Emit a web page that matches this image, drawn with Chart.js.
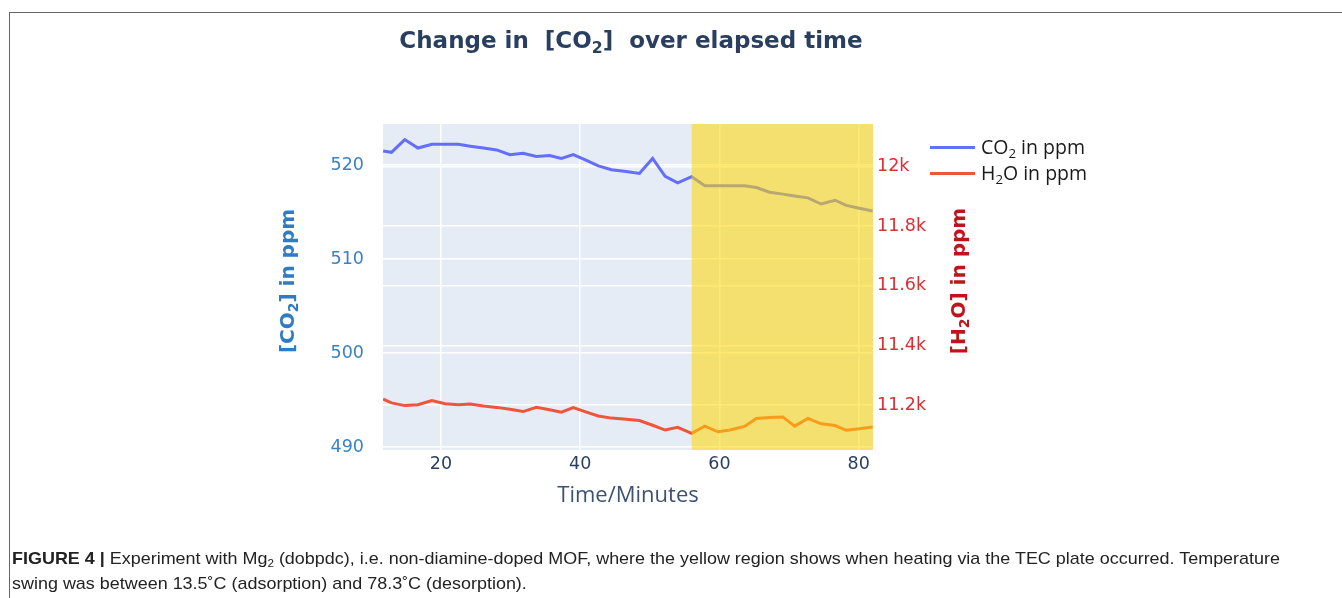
<!DOCTYPE html>
<html>
<head>
<meta charset="utf-8">
<script src="https://cdn.jsdelivr.net/npm/chart.js@4.4.0/dist/chart.umd.min.js"></script>
<style>
    body { margin: 0; width: 1342px; height: 598px; background: #fff; overflow: hidden; position: relative; }
    #frame { position: absolute; left: 9px; top: 12px; right: -5px; bottom: -5px; border-top: 1.5px solid #666; border-left: 1.5px solid #666; }
    #wrap { position: absolute; left: 0; top: 0; width: 1342px; height: 598px; }
    #title { position: absolute; left: 0; top: 24px; width: 1262px; text-align: center; white-space: pre;
             font: bold 23px "DejaVu Sans"; line-height: 32px; color: #2a3f5f; }
    #title sub, #legend sub { font-size: 0.68em; vertical-align: -0.3em; line-height: 0; }
    #legend { position: absolute; left: 930px; top: 134px; font: 19.5px "Open Sans"; color: #1a1a1a; }
    .item { position: relative; height: 26px; line-height: 26px; padding-left: 51px; white-space: nowrap; }
    .item span.swatch { position: absolute; left: 0; top: 12px; width: 45px; height: 3px; }
    #caption { position: absolute; left: 12px; top: 546px; font: 17px "Liberation Sans"; line-height: 25px;
               color: #222; white-space: nowrap; transform-origin: 0 0; }
    #caption sub { font-size: 0.65em; vertical-align: -0.25em; line-height: 0; }
</style>
</head>
<body>
<div id="frame"></div>
<div id="wrap"><canvas id="co2Chart"></canvas></div>
<div id="title">Change in  [CO<sub>2</sub>]  over elapsed time</div>
<div id="legend">
    <div class="item"><span class="swatch" style="background:#636efa"></span>CO<sub>2</sub> in ppm</div>
    <div class="item"><span class="swatch" style="background:#ef553b"></span>H<sub>2</sub>O in ppm</div>
</div>
<div id="caption"><span id="line1"><b>FIGURE 4 |</b> Experiment with Mg<sub>2</sub> (dobpdc), i.e. non-diamine-doped MOF, where the yellow region shows when heating via the TEC plate occurred. Temperature</span><br>swing was between 13.5˚C (adsorption) and 78.3˚C (desorption).</div>
<script>
// Data (minutes, ppm)
const times = [11.7, 12.9, 14.8, 16.7, 18.7, 20.6, 22.5, 24.2, 26.1, 28.0, 29.9, 31.8, 33.7, 35.6, 37.3, 39.0, 40.9, 42.6, 44.5, 46.6,
               48.5, 50.4, 52.2, 54.0, 56.0, 57.9, 59.8, 61.5, 63.6, 65.3, 67.2, 69.1, 70.8, 72.7, 74.6, 76.6, 78.2, 80.1, 82.0];
const co2Values = [521.5, 521.35, 522.7, 521.8, 522.2, 522.2, 522.2, 522.0, 521.8, 521.6, 521.1, 521.25, 520.9, 521.0, 520.7, 521.1,
                   520.5, 519.9, 519.5, 519.3, 519.1, 520.7, 518.8, 518.1, 518.75, 517.8, 517.8, 517.8, 517.8, 517.6, 517.1, 516.9,
                   516.7, 516.5, 515.85, 516.25, 515.7, 515.4, 515.1];
const h2oValues = [11220, 11207, 11198, 11201, 11215, 11204, 11201, 11203, 11197, 11192, 11186, 11178, 11192, 11184, 11176, 11191,
                   11176, 11163, 11156, 11152, 11148, 11132, 11116, 11125, 11105, 11129, 11110, 11116, 11128, 11155, 11158, 11160,
                   11129, 11155, 11137, 11131, 11115, 11120, 11126];
const xTicks = [20, 40, 60, 80];
const co2Ticks = [490, 500, 510, 520];
const h2oTicks = [11200, 11400, 11600, 11800, 12000];
const heatingStart = 56;

// Achtergrond van het plotvlak
const plotBackground = {
    id: 'plotBackground',
    beforeDraw(chart) {
        const { ctx, chartArea } = chart;
        ctx.save();
        ctx.fillStyle = '#e5ecf6';
        ctx.fillRect(chartArea.left, chartArea.top, chartArea.right - chartArea.left, chartArea.bottom - chartArea.top);
        ctx.restore();
    }
};

// Gele band: verwarmen via de TEC plaat
const heatingBand = {
    id: 'heatingBand',
    afterDatasetsDraw(chart) {
        const { ctx, chartArea, scales } = chart;
        let x0 = scales.x.getPixelForValue(heatingStart);
        ctx.save();
        ctx.fillStyle = 'rgba(255, 215, 0, 0.55)';
        ctx.fillRect(x0, chartArea.top, chartArea.right - x0, chartArea.bottom - chartArea.top);
        ctx.restore();
    }
};

// Astitels met echte subscript, beide van onder naar boven gelezen
function drawAxisTitle(ctx, parts, cx, cy, color) {
    const mainFont = 'bold 20px "DejaVu Sans"';
    const subFont = 'bold 14px "DejaVu Sans"';
    let total = 0;
    parts.forEach(p => {
        ctx.font = p[1] ? subFont : mainFont;
        total += ctx.measureText(p[0]).width;
    });
    ctx.save();
    ctx.translate(cx, cy);
    ctx.rotate(-Math.PI / 2);
    ctx.fillStyle = color;
    ctx.textBaseline = 'alphabetic';
    let x = -total / 2;
    parts.forEach(p => {
        ctx.font = p[1] ? subFont : mainFont;
        ctx.fillText(p[0], x, p[1] ? 11 : 7);
        x += ctx.measureText(p[0]).width;
    });
    ctx.restore();
}

const axisTitles = {
    id: 'axisTitles',
    afterDraw(chart) {
        const { ctx, scales } = chart;
        drawAxisTitle(ctx, [['[CO', 0], ['2', 1], ['] in ppm', 0]], scales.y.left + 12, 281, '#2f7cc3');
        drawAxisTitle(ctx, [['[H', 0], ['2', 1], ['O] in ppm', 0]], scales.y1.right - 12, 281, '#c0141c');
    }
};

function fixedTicks(list) {
    return function (scale) { scale.ticks = list.map(v => ({ value: v })); };
}

function drawChart() {
    var ctx = document.getElementById('co2Chart').getContext('2d');
    new Chart(ctx, {
        type: 'line',
        data: {
            datasets: [
                { label: 'CO₂ in ppm', data: times.map((t, i) => ({ x: t, y: co2Values[i] })), yAxisID: 'y',
                  borderColor: '#636efa', borderWidth: 3, pointRadius: 0, tension: 0 },
                { label: 'H₂O in ppm', data: times.map((t, i) => ({ x: t, y: h2oValues[i] })), yAxisID: 'y1',
                  borderColor: '#ef553b', borderWidth: 3, pointRadius: 0, tension: 0 }
            ]
        },
        options: {
            responsive: true,
            maintainAspectRatio: false,
            animation: false,
            layout: { padding: { left: 275, right: 372, top: 124, bottom: 89 } },
            plugins: { legend: { display: false }, title: { display: false }, tooltip: { enabled: false } },
            scales: {
                x: {
                    type: 'linear', min: 11.68, max: 82.05,
                    afterBuildTicks: fixedTicks(xTicks),
                    afterFit: s => { s.height = 59; },
                    grid: { color: '#ffffff', lineWidth: 1.5, drawTicks: false },
                    border: { display: false },
                    ticks: { padding: 4, color: '#2a3f5f', font: { family: 'DejaVu Sans', size: 17.5 }, maxRotation: 0, autoSkip: false },
                    title: { display: true, text: 'Time/Minutes', color: '#3d5273', padding: 0,
                             font: { family: 'Open Sans', size: 22 } }
                },
                y: {
                    position: 'left', min: 489.68, max: 524.36,
                    afterBuildTicks: fixedTicks(co2Ticks),
                    afterFit: s => { s.width = 108; },
                    grid: { color: '#ffffff', lineWidth: 1.5, drawTicks: false },
                    border: { display: false },
                    ticks: { padding: 19, color: '#3a82c2', font: { family: 'DejaVu Sans', size: 17.5 } }
                },
                y1: {
                    position: 'right', min: 11049, max: 12143,
                    afterBuildTicks: fixedTicks(h2oTicks),
                    afterFit: s => { s.width = 97; },
                    grid: { color: '#ffffff', lineWidth: 1.5, drawTicks: false },
                    border: { display: false },
                    ticks: { padding: 4, color: '#dd2e33', font: { family: 'DejaVu Sans', size: 17.5 },
                             callback: v => (v / 1000) + 'k' }
                }
            }
        },
        plugins: [plotBackground, heatingBand, axisTitles]
    });
}

// Bijschrift op breedte brengen
function fitCaption() {
    let line1 = document.getElementById('line1');
    let w = line1.getBoundingClientRect().width;
    let scale = 1268 / w;
    document.getElementById('caption').style.transform = 'scaleX(' + scale + ')';
}

window.onload = function () {
    drawChart();
    fitCaption();
};
</script>
</body>
</html>
